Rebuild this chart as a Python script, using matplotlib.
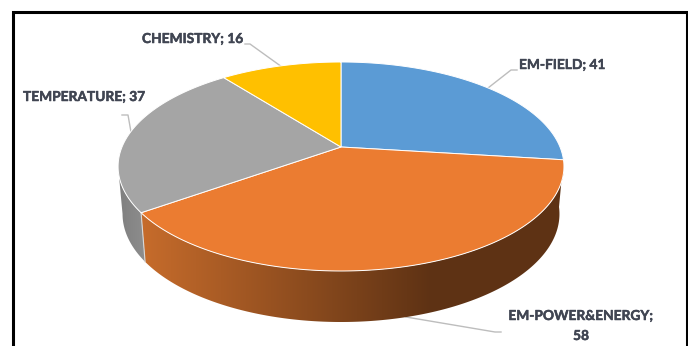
import numpy as np
import matplotlib
matplotlib.use("Agg")
import matplotlib.pyplot as plt
import matplotlib.patheffects as pe
from matplotlib.patches import Polygon

categories = ["EM-FIELD", "EM-POWER&ENERGY", "TEMPERATURE", "CHEMISTRY"]
values = [41, 58, 37, 16]
colors = ["#5B9BD5", "#EB7C31", "#A5A5A5", "#FFC000"]

W, H = 688, 346
CX, CY = 341.0, 147.0      # pie centre as projected on the top face
RX, RY, TILT = 219.0, 73.43, 0.1866


def top_face(theta):
    """Project clockwise-from-north angles (radians) of the disc into pixels."""
    u, v = np.sin(theta), np.cos(theta)
    d = 1 + TILT * v
    return CX + RX * u / d, (CY - RY * v) / d


def bottom_face(theta):
    """Lower rim of the disc: slightly narrower and pushed down."""
    x, y = top_face(theta)
    return CX + (x - CX) * 0.98, y + 49 + (y - 212) * 0.034


fig = plt.figure(figsize=(W / 100, H / 100), dpi=100, facecolor="white")
ax = fig.add_axes([0, 0, 1, 1])

edges = 2 * np.pi * np.cumsum([0] + values) / sum(values)
left_tangent = 2 * np.pi - np.arccos(-TILT)   # where the rim turns behind the disc


def draw_wall(start, stop, x_from, x_to, rgb_from, rgb_to):
    """Fill one section of the side wall with a horizontal colour ramp."""
    angles = np.linspace(start, stop, 300)
    xt, yt = top_face(angles)
    xb, yb = bottom_face(angles)
    outline = np.column_stack([np.r_[xt, xb[::-1]], np.r_[yt, yb[::-1]]])
    shape = Polygon(outline, closed=True, fc="none", ec="none", transform=ax.transData)
    ax.add_patch(shape)
    px = np.arange(W) + 0.5
    t = np.clip((px - x_from) / (x_to - x_from), 0, 1)[None, :, None]
    ramp = (np.array(rgb_from) + (np.array(rgb_to) - np.array(rgb_from)) * t) / 255
    img = ax.imshow(ramp, extent=(0, W, H, 0), aspect="auto", zorder=2, interpolation="nearest")
    img.set_clip_path(shape)


draw_wall(edges[1], edges[2], 146, 432, (197, 107, 43), (94, 50, 20))
draw_wall(edges[2], left_tangent, 120, 146, (128, 128, 128), (142, 142, 142))

ax.set_xlim(0, W)
ax.set_ylim(H, 0)
ax.axis("off")

# Seam between the two visible wall sections
seam = np.array([edges[2]])
ax.plot([top_face(seam)[0][0], bottom_face(seam)[0][0]],
        [top_face(seam)[1][0], bottom_face(seam)[1][0]],
        color="#D8D8D8", lw=0.8, zorder=3)

# Top face of the pie
for i, color in enumerate(colors):
    angles = np.linspace(edges[i], edges[i + 1], 200)
    x, y = top_face(angles)
    pts = [(CX, CY)] + list(zip(x, y))
    ax.add_patch(Polygon(pts, closed=True, fc=color, ec="white", lw=0.7, zorder=4, joinstyle="round"))

# Leader lines
leaders = [
    ([517, 511, 488], [70, 70, 88]),
    ([501, 495, 406], [332, 332, 317]),
    ([122, 128, 131], [115, 115, 132]),
    ([245, 250, 282], [44, 44, 67]),
]
for lx, ly in leaders:
    ax.plot(lx, ly, color="#BDBDBD", lw=1.0, zorder=1, solid_joinstyle="round")

# Data labels
labels = [f"{c}; {v}" for c, v in zip(categories, values)]
style = dict(family="Lato", fontweight="bold", fontsize=9.9, color="#404552", va="center", zorder=6,
             path_effects=[pe.withStroke(linewidth=0.35, foreground="#404552")])
ax.text(519, 65, labels[0], ha="left", **style)
ax.text(581, 316, f"{categories[1]};", ha="center", **style)
ax.text(581, 336, str(values[1]), ha="center", **style)
ax.text(23, 97, labels[2], ha="left", **style)
ax.text(142, 39, labels[3], ha="left", **style)

# Black frame, open at the bottom
ax.plot([12.5, 12.5, 686.5, 686.5], [346, 11.5, 11.5, 346], color="black", lw=2.2,
        solid_joinstyle="miter", zorder=7)

fig.savefig("out.png", dpi=100, facecolor="white")
